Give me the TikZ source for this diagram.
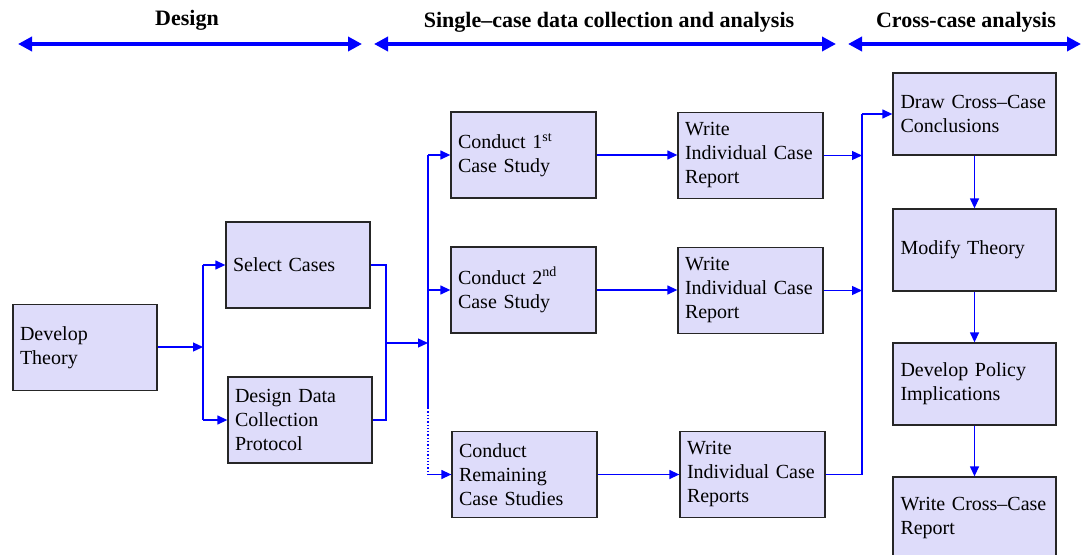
\documentclass[tikz,border=0pt]{standalone}
\usepackage{fontspec}
\setmainfont{Liberation Serif}
\usetikzlibrary{arrows.meta,calc}
\definecolor{lav}{RGB}{222,220,250}
\definecolor{arrblue}{RGB}{0,0,255}
\begin{document}
\begin{tikzpicture}[x=1pt,y=-1pt,
  box/.style={draw=black!85, line width=1.3pt, fill=lav, rectangle, align=left,
    inner xsep=7pt, inner ysep=0pt, font=\fontsize{20}{24}\selectfont},
  boxA/.style={box, minimum width=145pt, minimum height=86pt, text width=131pt},
  boxB/.style={box, minimum width=163pt, minimum height=82pt, text width=148pt, inner xsep=7.5pt},
  ln/.style={draw=arrblue, line width=1.3pt},
  arr/.style={ln, -{Triangle[length=10pt,width=9pt]}},
  dotln/.style={ln, dotted},
  hdr/.style={draw=arrblue, line width=4pt, {Triangle[length=14pt,width=14pt]}-{Triangle[length=14pt,width=14pt]}},
  htext/.style={font=\fontsize{22}{26}\selectfont\bfseries, inner sep=0pt}
]
\useasboundingbox (0,0) rectangle (1081,554);

% headers
\node[htext] (h1) at (187,20) {Design};
\node[htext] (h2) at (609,22) {Single--case data collection and analysis};
\node[htext] (h3) at (966,22) {Cross-case analysis};
\coordinate (h1l) at (18,44);  \coordinate (h1r) at (362,44);
\coordinate (h2l) at (374,44); \coordinate (h2r) at (836,44);
\coordinate (h3l) at (848,44); \coordinate (h3r) at (1081,44);
\draw[hdr] (h1l) -- (h1r);
\draw[hdr] (h2l) -- (h2r);
\draw[hdr] (h3l) -- (h3r);

% boxes
\node[boxA, minimum width=144pt, text width=130pt] (dev) at (85,347.5) {Develop\\Theory};
\node[boxA, minimum width=144pt, text width=130pt] (sel) at (298,265) {Select Cases};
\node[boxA, minimum width=144pt, text width=130pt] (dd) at (300,420) {Design Data\\Collection\\Protocol};

\node[boxA] (c1) at (523.5,155) {Conduct 1\textsuperscript{st}\\Case Study};
\node[boxA] (w1) at (750.5,155.5) {Write\\Individual Case\\Report};
\node[boxA] (c2) at (523.5,290) {Conduct 2\textsuperscript{nd}\\Case Study};
\node[boxA] (w2) at (750.5,290.5) {Write\\Individual Case\\Report};
\node[boxA] (cr) at (524.5,474.5) {Conduct\\Remaining\\Case Studies};
\node[boxA] (wr) at (752.5,474.5) {Write\\Individual Case\\Reports};

\node[boxB] (dc) at (974.5,114) {Draw Cross--Case\\Conclusions};
\node[boxB] (mt) at (974.5,250) {Modify Theory};
\node[boxB] (dp) at (974.5,384) {Develop Policy\\Implications};
\node[boxB] (wc) at (974.5,518) {Write Cross--Case\\Report};

% design connectors
\coordinate (j1) at (203,347);
\draw[arr] (dev.east |- j1) -- (j1);
\draw[ln] (sel.west -| j1) -- (dd.west -| j1);
\draw[arr] (sel.west -| j1) -- (sel.west);
\draw[arr] (dd.west -| j1) -- (dd.west);

\coordinate (j2) at (386,343);
\coordinate (j3) at (428,343);
\draw[ln] (sel.east) -| (j2) |- (dd.east);
\draw[arr] (j2) -- (j3);

% fan-out to case studies
\coordinate (dsplit) at (428,408);
\draw[ln] (c1.west -| j3) -- (dsplit);
\draw[dotln] (dsplit) -- (cr.west -| j3);
\draw[arr] (c1.west -| j3) -- (c1.west);
\draw[arr] (c2.west -| j3) -- (c2.west);
\draw[arr] (cr.west -| j3) -- (cr.west);

\draw[arr] (c1.east) -- (c1.east -| w1.west);
\draw[arr] (c2.east) -- (c2.east -| w2.west);
\draw[arr] (cr.east) -- (cr.east -| wr.west);

% gather to cross-case
\coordinate (j4) at (862,155);
\draw[arr] (w1.east) -- (w1.east -| j4);
\draw[arr] (w2.east) -- (w2.east -| j4);
\draw[ln] (wr.east) -- (wr.east -| j4) -- (dc.west -| j4);
\draw[arr] (dc.west -| j4) -- (dc.west);

\draw[arr] (dc) -- (mt);
\draw[arr] (mt) -- (dp);
\draw[arr] (dp) -- (wc);
\end{tikzpicture}
\end{document}
